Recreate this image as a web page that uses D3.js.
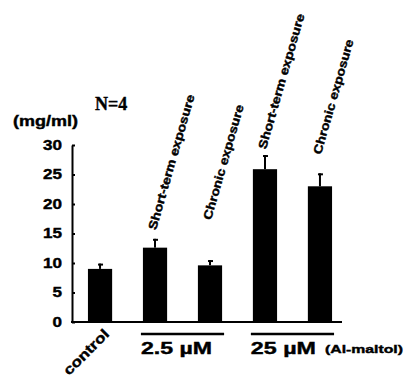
<!DOCTYPE html>
<html>
<head>
<meta charset="utf-8">
<script src="https://cdn.jsdelivr.net/npm/d3@7"></script>
<style>
  body { margin: 0; background: #fff; }
  text { font-family: "Liberation Sans", Arial, sans-serif; font-weight: bold; fill: #000; stroke: #000; stroke-width: 0.4px; }
</style>
</head>
<body>
<svg id="chart" width="405" height="379"></svg>
<script>
// data
var categories = ['control', 'st25', 'ch25', 'st250', 'ch250'];
var means  = [9.0, 12.6, 9.6, 25.9, 23.0];
var errors = [0.9, 1.5, 0.9, 2.4, 2.2];
var barLabels = ['', 'Short-term exposure', 'Chronic exposure', 'Short-term exposure', 'Chronic exposure'];
var groups = [
  { label: '2.5 \u00b5M', from: 'st25', to: 'ch25' },
  { label: '25 \u00b5M', from: 'st250', to: 'ch250' }
];
var yTicks = [0, 5, 10, 15, 20, 25, 30];

var svg = d3.select('svg#chart');

var x = d3.scaleBand()
  .domain(categories)
  .range([72, 348])
  .paddingInner(0.56)
  .paddingOuter(0.29);

var y = d3.scaleLinear()
  .domain([0, 30])
  .range([322, 145]);

// y axis, ticks pointing inward
var yAxis = d3.axisLeft(y)
  .tickValues(yTicks)
  .tickSizeInner(-3)
  .tickSizeOuter(0)
  .tickPadding(10);

var yg = svg.append('g')
  .attr('transform', 'translate(72,0)')
  .call(yAxis);
yg.select('.domain').attr('stroke-width', 2);
yg.selectAll('.tick line').attr('stroke-width', 2);
yg.selectAll('.tick text')
  .style('font-size', '14px')
  .style('font-family', '"Liberation Sans", Arial, sans-serif')
  .style('font-weight', 'bold')
  .attr('textLength', function (d) { return String(d).length * 9.5; })
  .attr('lengthAdjust', 'spacingAndGlyphs');

// x axis baseline
svg.append('line')
  .attr('x1', 71).attr('x2', 342)
  .attr('y1', y(0)).attr('y2', y(0))
  .attr('stroke', '#000')
  .attr('stroke-width', 2);

// bars
svg.selectAll('rect.bar')
  .data(categories)
  .enter()
  .append('rect')
  .attr('class', 'bar')
  .attr('x', function (d) { return x(d); })
  .attr('width', x.bandwidth())
  .attr('y', function (d, i) { return y(means[i]); })
  .attr('height', function (d, i) { return y(0) - y(means[i]); })
  .attr('fill', '#000');

// error bars (upper only)
var err = svg.selectAll('g.err')
  .data(categories)
  .enter()
  .append('g')
  .attr('class', 'err');

err.append('line')
  .attr('x1', function (d) { return x(d) + x.bandwidth() / 2; })
  .attr('x2', function (d) { return x(d) + x.bandwidth() / 2; })
  .attr('y1', function (d, i) { return y(means[i]); })
  .attr('y2', function (d, i) { return y(means[i] + errors[i]); })
  .attr('stroke', '#000')
  .attr('stroke-width', 2);

err.append('line')
  .attr('x1', function (d) { return x(d) + x.bandwidth() / 2 - 2; })
  .attr('x2', function (d) { return x(d) + x.bandwidth() / 2 + 3; })
  .attr('y1', function (d, i) { return y(means[i] + errors[i]) + 1; })
  .attr('y2', function (d, i) { return y(means[i] + errors[i]) + 1; })
  .attr('stroke', '#000')
  .attr('stroke-width', 2);

// slanted labels above the bars (start heights in data units, placed by hand in the original)
var labelAt = [0, 15.5, 17.2, 29.2, 28.3];
svg.selectAll('text.barlabel')
  .data(categories)
  .enter()
  .filter(function (d, i) { return barLabels[i] !== ''; })
  .append('text')
  .attr('class', 'barlabel')
  .attr('transform', function (d) {
    var i = categories.indexOf(d);
    return 'translate(' + (x(d) + x.bandwidth() / 2 + 1) + ',' + y(labelAt[i]) + ') rotate(-74)';
  })
  .attr('textLength', function (d) {
    return barLabels[categories.indexOf(d)].length > 17 ? 140 : 119;
  })
  .attr('lengthAdjust', 'spacingAndGlyphs')
  .style('font-size', '12px')
  .text(function (d) { return barLabels[categories.indexOf(d)]; });

// control label
svg.append('text')
  .attr('transform', 'translate(' + (x('control') + x.bandwidth() / 2 + 10) + ',335) rotate(-45)')
  .attr('text-anchor', 'end')
  .attr('textLength', 58)
  .attr('lengthAdjust', 'spacingAndGlyphs')
  .style('font-size', '14px')
  .text('control');

// concentration groups
var gg = svg.selectAll('g.group')
  .data(groups)
  .enter()
  .append('g')
  .attr('class', 'group');

gg.append('line')
  .attr('x1', function (d) { return x(d.from) - 2; })
  .attr('x2', function (d) { return x(d.to) + x.bandwidth() + 2; })
  .attr('y1', 334).attr('y2', 334)
  .attr('stroke', '#000')
  .attr('stroke-width', 2.5);

gg.append('text')
  .attr('x', function (d) { return x(d.from) - 2; })
  .attr('y', 354)
  .attr('textLength', function (d, i) { return i === 0 ? 71 : 65; })
  .attr('lengthAdjust', 'spacingAndGlyphs')
  .style('font-size', '16px')
  .text(function (d) { return d.label; });

svg.append('text')
  .attr('x', 325)
  .attr('y', 353)
  .attr('textLength', 78)
  .attr('lengthAdjust', 'spacingAndGlyphs')
  .style('font-size', '11px')
  .text('(Al-maltol)');

// unit and N
svg.append('text')
  .attr('x', 13)
  .attr('y', 126)
  .attr('textLength', 65)
  .attr('lengthAdjust', 'spacingAndGlyphs')
  .style('font-size', '14px')
  .text('(mg/ml)');

svg.append('text')
  .attr('x', 95)
  .attr('y', 110)
  .style('font-family', '"Liberation Serif", "Times New Roman", serif')
  .style('font-size', '18px')
  .text('N=4');
</script>
</body>
</html>
